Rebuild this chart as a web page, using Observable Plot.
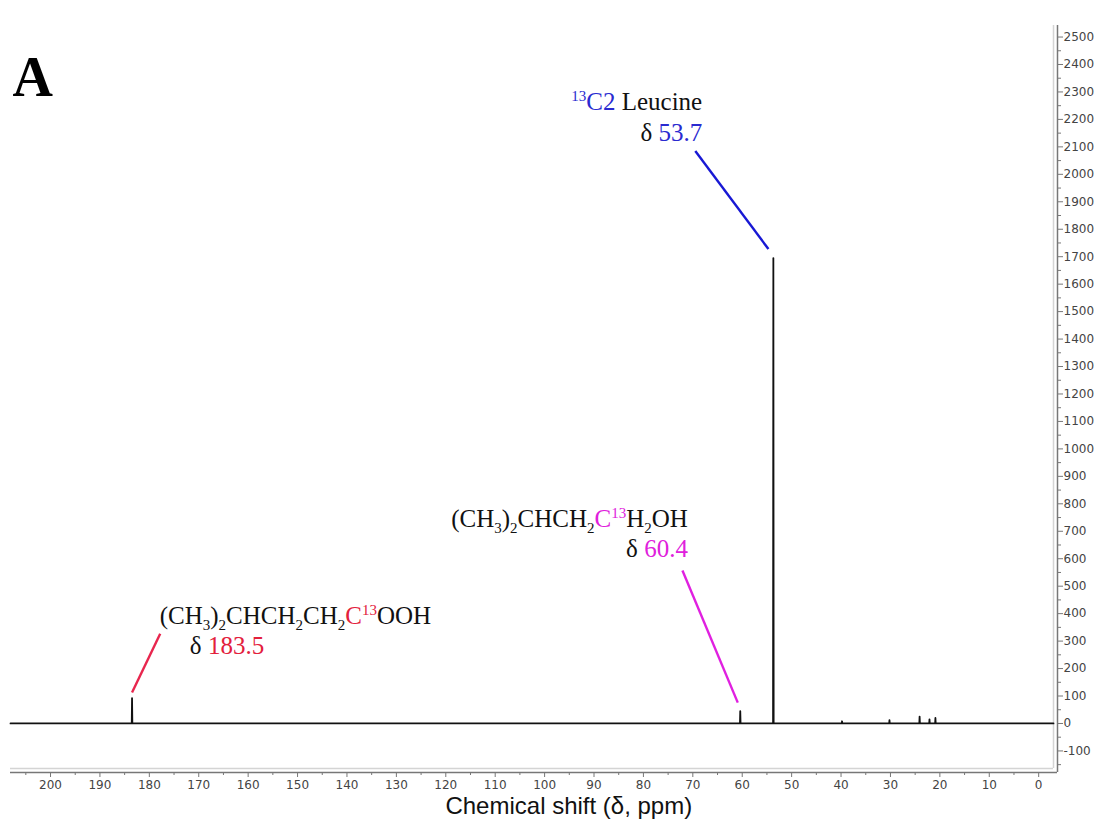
<!DOCTYPE html>
<html><head><meta charset="utf-8">
<script src="https://cdn.jsdelivr.net/npm/d3@7"></script>
<script src="https://cdn.jsdelivr.net/npm/@observablehq/plot@0.6"></script>
<style>body{margin:0;background:#fff}</style>
</head><body><div id="chart"></div>
<script>
// ---- data ----
const peakPpm    = [183.5, 60.4, 53.7, 39.8, 30.2, 24.1, 22.1, 20.9];
const peakHeight = [92,    45,   1695, 8,    12,   25,   15,   20];
const xDomain = [208.1, -3.0];
const yDomain = [-164, 2542];
const xTicks = d3.range(0, 201, 10);
const xMinor = d3.range(5, 206, 10);
const yTicks = d3.range(-100, 2501, 100);
const yMinor = d3.range(-150, 2501, 100);

// leader lines (peak end -> label end)
const leaderX1 = [183.5, 60.9, 54.7];
const leaderY1 = [113, 76, 1728];
const leaderX2 = [177.8, 72.1, 69.5];
const leaderY2 = [327, 557, 2085];
const leaderColor = ["#e8264e", "#e020e0", "#1818d4"];

const RED = "#e3203c", MAG = "#e020dc", BLUE = "#2a2ad0";
// rich text annotation lines: segments [text, kind, colour]
const annX = [177.8, 171.7, 70.9, 70.9, 68.0, 68.0];
const annY = [360, 251, 713, 604, 2231, 2121];
const annAnchor = ["start", "start", "end", "end", "end", "end"];
const annSegs = [
  [["(CH"], ["3","sub"], [")"], ["2","sub"], ["CHCH"], ["2","sub"], ["CH"], ["2","sub"], ["C",null,RED], ["13","sup",RED], ["OOH"]],
  [["δ "], ["183.5",null,RED]],
  [["(CH"], ["3","sub"], [")"], ["2","sub"], ["CHCH"], ["2","sub"], ["C",null,MAG], ["13","sup",MAG], ["H"], ["2","sub"], ["OH"]],
  [["δ "], ["60.4",null,MAG]],
  [["13","sup",BLUE], ["C2",null,BLUE], [" Leucine"]],
  [["δ "], ["53.7",null,BLUE]]
];
const panelLabel = "A";
const xLabel = "Chemical shift (δ, ppm)";

// ---- build spectrum line from peaks ----
const order = d3.range(peakPpm.length).sort((a, b) => peakPpm[b] - peakPpm[a]);
const spectrum = [{ppm: xDomain[0], h: 0}];
for (const i of order) {
  const p = peakPpm[i];
  spectrum.push({ppm: p + 0.06, h: 0}, {ppm: p, h: peakHeight[i]}, {ppm: p - 0.06, h: 0});
}
spectrum.push({ppm: xDomain[1], h: 0});

const leaders = leaderX1.map((d, i) => ({x1: d, y1: leaderY1[i], x2: leaderX2[i], y2: leaderY2[i], c: leaderColor[i]}));

const axisFont = "'DejaVu Sans', Verdana, sans-serif";

const plot = Plot.plot({
  width: 1095, height: 826,
  marginLeft: 10, marginRight: 42, marginTop: 25, marginBottom: 58,
  style: {background: "#fff", overflow: "visible"},
  x: {domain: xDomain},
  y: {domain: yDomain},
  marks: [
    // light frame lines
    Plot.ruleY([yDomain[0]], {stroke: "#d4d4d4", strokeWidth: 1.5}),
    Plot.ruleX([xDomain[1]], {stroke: "#d4d4d4", strokeWidth: 1.5}),
    // axis lines
    Plot.ruleY([yDomain[0]], {stroke: "#777", strokeWidth: 1.5, dy: 4, insetRight: -4}),
    Plot.ruleX([xDomain[1]], {stroke: "#777", strokeWidth: 1.5, dx: 4, insetBottom: -4}),
    Plot.axisX(xTicks, {anchor: "bottom", tickSize: 5, dy: 4, tickPadding: 3, fontSize: 12,
      fontFamily: axisFont, color: "#444", stroke: "#777", label: null, tickFormat: d => String(d)}),
    Plot.axisX(xMinor, {anchor: "bottom", tickSize: 3, dy: 4, tickFormat: () => "", label: null, stroke: "#777"}),
    Plot.axisY(yTicks, {anchor: "right", tickSize: 5, dx: 4, tickPadding: 1, fontSize: 12,
      fontFamily: axisFont, color: "#444", stroke: "#777", label: null, tickFormat: d => String(d)}),
    Plot.axisY(yMinor, {anchor: "right", tickSize: 3, dx: 4, tickFormat: () => "", label: null, stroke: "#777"}),
    // spectrum
    Plot.line(spectrum, {x: "ppm", y: "h", stroke: "#111", strokeWidth: 1.8, curve: "linear"}),
    // leader lines
    Plot.link(leaders, {x1: "x1", y1: "y1", x2: "x2", y2: "y2", stroke: "c", strokeWidth: 2.4}),
    // axis title
    Plot.text([xLabel], {x: 95.1, frameAnchor: "bottom", dy: 45, text: d => d, fontSize: 24,
      fontFamily: "'Liberation Sans', Arial, sans-serif", fill: "#111"}),
    // panel label
    Plot.text([panelLabel], {frameAnchor: "top-left", dx: 2, dy: 31, lineAnchor: "top", text: d => d, fontSize: 56,
      fontWeight: "bold", fontFamily: "'Liberation Serif', 'Times New Roman', serif", fill: "#000", textAnchor: "start"})
  ]
});

// rich text annotations positioned through the plot's scales
const sx = plot.scale("x"), sy = plot.scale("y");
const g = d3.select(plot).append("g")
  .attr("font-family", "'Liberation Serif', 'Times New Roman', serif")
  .attr("font-size", 25).attr("fill", "#111");
annSegs.forEach((segs, i) => {
  const t = g.append("text")
    .attr("x", sx.apply(annX[i])).attr("y", sy.apply(annY[i]))
    .attr("text-anchor", annAnchor[i]);
  let shift = 0;
  segs.forEach(([s, kind, color]) => {
    const target = kind === "sub" ? 6 : kind === "sup" ? -9 : 0;
    const ts = t.append("tspan").text(s).attr("dy", target - shift);
    if (kind) ts.attr("font-size", 15);
    if (color) ts.attr("fill", color);
    shift = target;
  });
});

document.getElementById("chart").appendChild(plot);
</script>
</body></html>
